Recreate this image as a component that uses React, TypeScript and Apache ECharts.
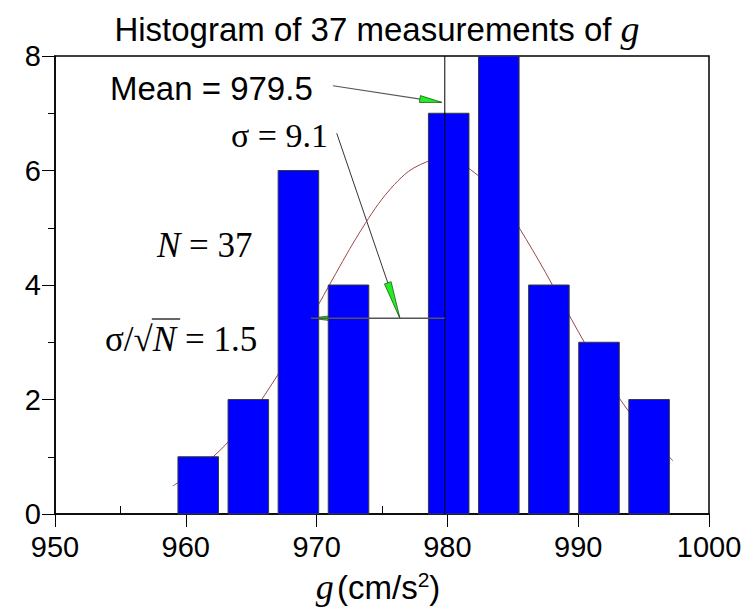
import React, { useEffect, useRef } from 'react';
import * as echarts from 'echarts';

// ---- data ----
const binCenters = [960.95, 964.78, 968.61, 972.44, 976.27, 980.1, 983.93, 987.76, 991.59, 995.42];
const counts = [1, 2, 6, 4, 0, 7, 8, 4, 3, 2];
const curveX = [959, 961, 963, 965, 967, 969, 971, 973, 975, 977, 979, 979.5, 981, 983, 985, 987, 989, 991, 993, 995, 997.25];
const curveY = [0.49, 0.79, 1.2, 1.74, 2.42, 3.19, 4.01, 4.81, 5.5, 5.98, 6.2, 6.21, 6.13, 5.77, 5.17, 4.42, 3.6, 2.79, 2.07, 1.46, 0.93];
const xRange = [950, 1000];
const yRange = [0, 8];
const meanLineX = 979.8;
const sigmaBarY = 3.42;
const sigmaBarLeft = 969.57;
// annotation arrow anchors (data units)
const meanArrowFrom = [971.25, 7.48];
const meanArrowTip = [979.56, 7.19];
const sigmaArrowFrom = [971.54, 6.65];
const sigmaArrowTip = [976.38, 3.41];

const BAR_W = 3.1;
const SANS = '"Liberation Sans", Arial, sans-serif';
const SERIF = '"Liberation Serif", "Times New Roman", serif';

function measure(text: string, font: string) {
  const c = document.createElement('canvas').getContext('2d')!;
  c.font = font;
  return c.measureText(text).width;
}

function head(tip: number[], from: number[], len: number, half: number) {
  const dx = tip[0] - from[0];
  const dy = tip[1] - from[1];
  const L = Math.hypot(dx, dy);
  const ux = dx / L, uy = dy / L;
  const bx = tip[0] - ux * len, by = tip[1] - uy * len;
  return [
    [tip[0], tip[1]],
    [bx - uy * half, by + ux * half],
    [bx + uy * half, by - ux * half],
  ];
}

export default function App() {
  const ref = useRef<HTMLDivElement>(null);
  useEffect(() => {
    const el = ref.current!;
    const chart = echarts.init(el, null, { renderer: 'svg', width: 746, height: 611 });
    chart.setOption({
      animation: false,
      backgroundColor: '#ffffff',
      grid: { left: 55, right: 37, top: 56, bottom: 97, show: true, borderColor: '#000', borderWidth: 1.5 },
      xAxis: [
        {
          type: 'value', min: xRange[0], max: xRange[1], interval: 10,
          splitLine: { show: false },
          axisLine: { lineStyle: { color: '#000', width: 1.5 } },
          axisTick: { length: 13, lineStyle: { color: '#000', width: 1 } },
          axisLabel: { color: '#000', fontSize: 29, fontFamily: SANS, margin: 18, formatter: (v: number) => String(v) },
        },
        {
          type: 'value', min: xRange[0], max: xRange[1], interval: 10, position: 'bottom',
          splitLine: { show: false },
          axisLine: { show: false },
          axisLabel: { show: false },
          axisTick: { show: false, inside: true },
          minorTick: { show: true, splitNumber: 2, length: 8, lineStyle: { color: '#000', width: 1 } },
        },
      ],
      yAxis: {
        type: 'value', min: yRange[0], max: yRange[1], interval: 2,
        splitLine: { show: false },
        axisLine: { show: true, lineStyle: { color: '#000', width: 1.5 } },
        axisTick: { show: true, length: 13, lineStyle: { color: '#000', width: 1 } },
        minorTick: { show: true, splitNumber: 2, length: 7, lineStyle: { color: '#000', width: 1 } },
        axisLabel: { color: '#000', fontSize: 29, fontFamily: SANS, margin: 14 },
      },
      series: [
        {
          type: 'line', z: 1, smooth: 0.3, showSymbol: false, symbol: 'none',
          lineStyle: { color: '#9a4848', width: 1 },
          data: curveX.map((x, i) => [x, curveY[i]]),
        },
        {
          type: 'custom', z: 2,
          encode: { x: 0, y: 1 },
          data: binCenters.map((c, i) => [c, counts[i]]),
          renderItem: (params: any, api: any) => {
            const c = api.value(0);
            const v = api.value(1);
            if (!v) return null;
            const p0 = api.coord([c - BAR_W / 2, v]);
            const p1 = api.coord([c + BAR_W / 2, 0]);
            return {
              type: 'rect',
              shape: { x: p0[0], y: p0[1], width: p1[0] - p0[0], height: p1[1] - p0[1] },
              style: { fill: '#0000ff', stroke: '#3a3a3a', lineWidth: 1 },
            };
          },
        },
        {
          type: 'line', z: 3, showSymbol: false, symbol: 'none',
          lineStyle: { color: '#000', width: 1 },
          data: [[meanLineX, yRange[0]], [meanLineX, yRange[1]]],
        },
        {
          type: 'line', z: 3, showSymbol: false, symbol: 'none',
          lineStyle: { color: '#555', width: 1.5 },
          data: [[sigmaBarLeft, sigmaBarY], [meanLineX, sigmaBarY]],
        },
      ],
    });

    const toPx = (p: number[]) => chart.convertToPixel({ gridIndex: 0 }, p) as number[];
    const mF = toPx(meanArrowFrom), mT = toPx(meanArrowTip);
    const sF = toPx(sigmaArrowFrom), sT = toPx(sigmaArrowTip);
    const hT = toPx([sigmaBarLeft, sigmaBarY]), hF = toPx([meanLineX, sigmaBarY]);

    const green = { fill: '#22ee22', stroke: '#1a5a1a', lineWidth: 0.8 };

    // sigma / sqrt N pieces
    const FS = 35;
    const fS = `${FS}px ${SERIF}`;
    const fSi = `italic ${FS}px ${SERIF}`;
    const sx0 = 105;
    const w1 = measure('σ/', fS);
    const w2 = measure('√', fS);
    const w3 = measure('N', fSi);
    const sy = 339;

    const title = {
      type: 'text', x: 377, y: 29,
      style: {
        text: '{a|Histogram of 37 measurements of }{g|g}',
        align: 'center', verticalAlign: 'middle',
        rich: {
          a: { fontFamily: SANS, fontSize: 33, fill: '#000' },
          g: { fontFamily: SERIF, fontStyle: 'italic', fontSize: 38, fill: '#000' },
        },
      },
    };
    const xname = {
      type: 'text', x: 378, y: 587,
      style: {
        text: '{g|g} {a|(cm/s}{s|2}{a|)}',
        align: 'center', verticalAlign: 'middle',
        rich: {
          g: { fontFamily: SERIF, fontStyle: 'italic', fontSize: 36, fill: '#000' },
          a: { fontFamily: SANS, fontSize: 33, fill: '#000' },
          s: { fontFamily: SANS, fontSize: 21, fill: '#000', verticalAlign: 'top' },
        },
      },
    };

    chart.setOption({
      graphic: [
        title,
        xname,
        { type: 'text', x: 110, y: 88, style: { text: 'Mean = 979.5', font: `33px ${SANS}`, fill: '#000', verticalAlign: 'middle' } },
        { type: 'text', x: 231, y: 135, style: { text: 'σ = 9.1', font: `34px ${SERIF}`, fill: '#000', verticalAlign: 'middle' } },
        {
          type: 'text', x: 157, y: 245,
          style: {
            text: '{i|N}{r| = 37}', verticalAlign: 'middle',
            rich: { i: { fontFamily: SERIF, fontStyle: 'italic', fontSize: FS, fill: '#000' }, r: { fontFamily: SERIF, fontSize: FS, fill: '#000' } },
          },
        },
        { type: 'text', x: sx0, y: sy, style: { text: 'σ/', font: fS, fill: '#000', verticalAlign: 'middle' } },
        { type: 'text', x: sx0 + w1, y: sy, style: { text: '√', font: fS, fill: '#000', verticalAlign: 'middle' } },
        { type: 'text', x: sx0 + w1 + w2, y: sy, style: { text: 'N', font: fSi, fill: '#000', verticalAlign: 'middle' } },
        { type: 'text', x: sx0 + w1 + w2 + w3, y: sy, style: { text: ' = 1.5', font: fS, fill: '#000', verticalAlign: 'middle' } },
        { type: 'line', shape: { x1: sx0 + w1 + w2 - 1, y1: sy - 20, x2: sx0 + w1 + w2 + w3 + 4, y2: sy - 20 }, style: { stroke: '#000', lineWidth: 1.2 } },
        // arrows
        { type: 'line', shape: { x1: mF[0], y1: mF[1], x2: mT[0], y2: mT[1] }, style: { stroke: '#555', lineWidth: 1.2 } },
        { type: 'polygon', shape: { points: head(mT, mF, 22, 3.5) }, style: green },
        { type: 'line', shape: { x1: sF[0], y1: sF[1], x2: sT[0], y2: sT[1] }, style: { stroke: '#333', lineWidth: 1 } },
        { type: 'polygon', shape: { points: head(sT, sF, 38, 3.5) }, style: green },
        { type: 'polygon', shape: { points: head(hT, hF, 24, 3) }, style: green },
      ],
    });
    return () => chart.dispose();
  }, []);
  return <div ref={ref} style={{ position: 'fixed', left: 0, top: 0, width: 746, height: 611 }} />;
}
